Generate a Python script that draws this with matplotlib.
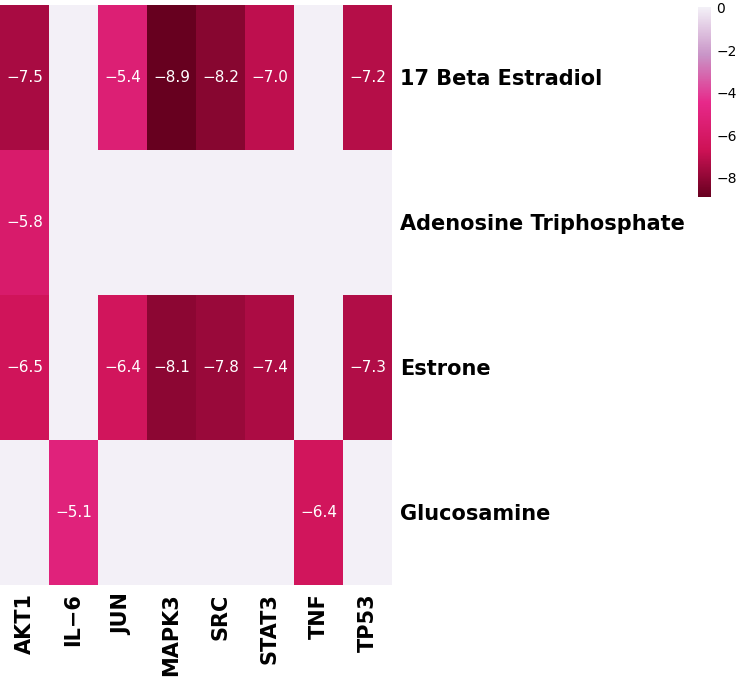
import numpy as np
import matplotlib
matplotlib.use("Agg")
import matplotlib.pyplot as plt
from matplotlib.colors import LinearSegmentedColormap

genes = ["AKT1", "IL\u22126", "JUN", "MAPK3", "SRC", "STAT3", "TNF", "TP53"]
compounds = ["17 Beta Estradiol", "Adenosine Triphosphate", "Estrone", "Glucosamine"]
nan = np.nan
row_estradiol = [-7.5, nan, -5.4, -8.9, -8.2, -7.0, nan, -7.2]
row_atp = [-5.8, nan, nan, nan, nan, nan, nan, nan]
row_estrone = [-6.5, nan, -6.4, -8.1, -7.8, -7.4, nan, -7.3]
row_glucosamine = [nan, -5.1, nan, nan, nan, nan, -6.4, nan]
data = np.array([row_estradiol, row_atp, row_estrone, row_glucosamine])

cmap = LinearSegmentedColormap.from_list("c", ["#67001F", "#CE1256", "#E7298A", "#C994C7", "#F3F0F7"])
vmin, vmax = -8.9, 0

fig = plt.figure(figsize=(7.37, 6.77), dpi=100)
ax = fig.add_axes([0.0, 0.136, 0.532, 0.857])
ax.set_facecolor(cmap(1.0))
m = ax.pcolormesh(np.ma.masked_invalid(data), cmap=cmap, vmin=vmin, vmax=vmax)
ax.set_xlim(0, 8); ax.set_ylim(4, 0)
for i in range(4):
    for j in range(8):
        v = data[i, j]
        if not np.isnan(v):
            ax.text(j + 0.5, i + 0.5, f"{v:.1f}".replace("-", "\u2212"), ha="center", va="center",
                    color="white", fontsize=11)
ax.set_xticks(np.arange(8) + 0.5)
ax.set_xticklabels(genes, rotation=90, fontsize=15, fontweight="bold")
ax.set_yticks(np.arange(4) + 0.5)
ax.set_yticklabels(compounds, fontsize=15, fontweight="bold")
ax.yaxis.tick_right()
ax.tick_params(length=0, pad=6)
for s in ax.spines.values():
    s.set_visible(False)

cax = fig.add_axes([0.947, 0.709, 0.018, 0.28])
cb = fig.colorbar(m, cax=cax, ticks=[0, -2, -4, -6, -8])
cb.ax.set_yticklabels(["0", "\u22122", "\u22124", "\u22126", "\u22128"])
cb.outline.set_visible(False)
cb.ax.tick_params(length=0, labelsize=10)
fig.savefig("out.png", dpi=100)
